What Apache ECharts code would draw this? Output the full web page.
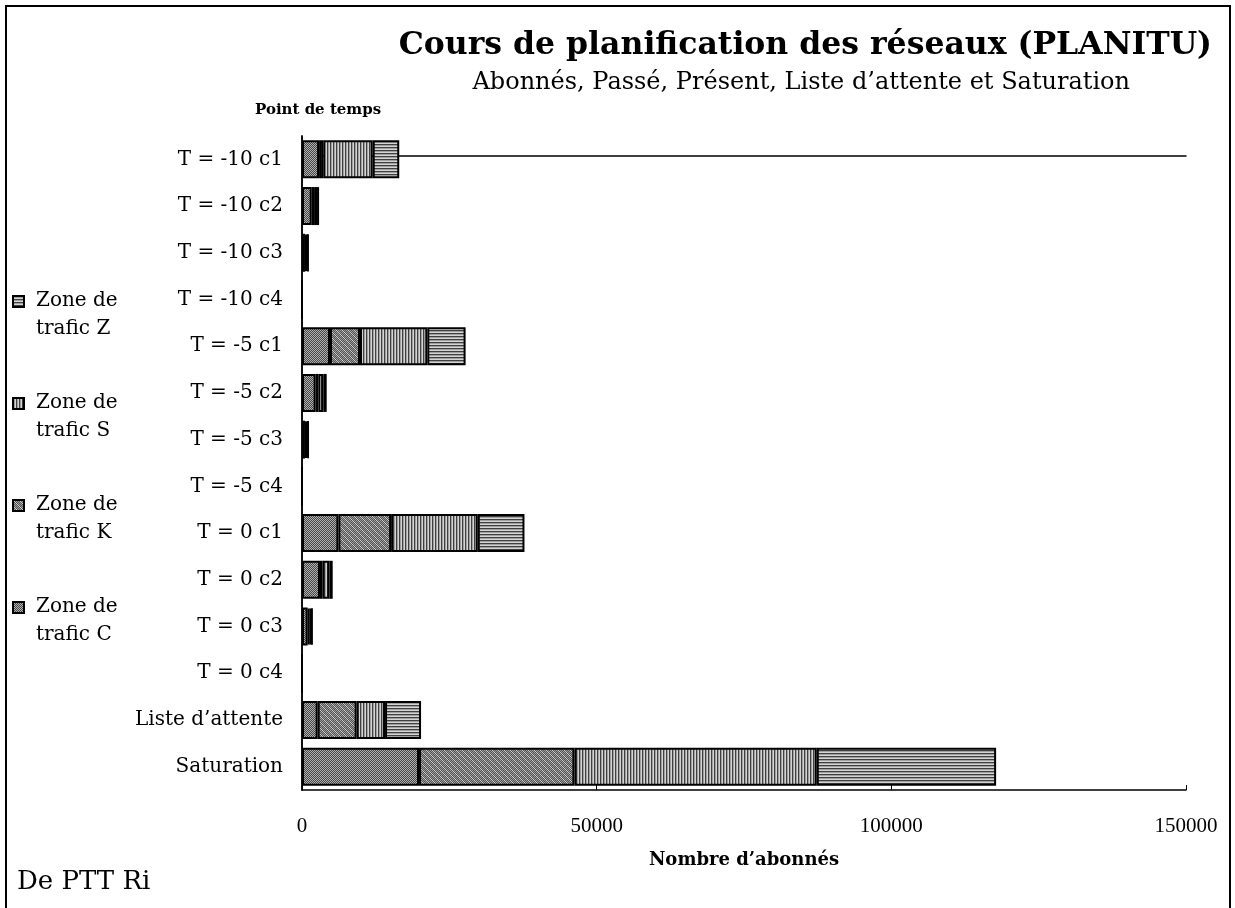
<!DOCTYPE html>
<html>
<head>
<meta charset="utf-8">
<script src="https://cdn.jsdelivr.net/npm/echarts@6/dist/echarts.min.js"></script>
<style>
  html, body { margin: 0; padding: 0; background: #fff; }
  #chart { width: 1235px; height: 908px; }
</style>
</head>
<body>
<div id="chart"></div>
<script>
// catégories (de haut en bas)
const categories = [
  'T = -10 c1', 'T = -10 c2', 'T = -10 c3', 'T = -10 c4',
  'T = -5 c1', 'T = -5 c2', 'T = -5 c3', 'T = -5 c4',
  'T = 0 c1', 'T = 0 c2', 'T = 0 c3', 'T = 0 c4',
  'Liste d’attente', 'Saturation'
]
const zoneC = [2900, 1650, 500, 0, 4750, 2320, 500, 0, 6170, 3050, 960, 0, 2660, 19860]
const zoneK = [700, 400, 200, 0, 5090, 450, 200, 0, 8950, 400, 300, 0, 6620, 26360]
const zoneS = [8400, 500, 250, 0, 11420, 850, 250, 0, 14710, 1190, 300, 0, 4810, 41130]
const zoneZ = [4500, 350, 120, 0, 6500, 570, 150, 0, 7920, 570, 240, 0, 6110, 30430]
const xTicks = [0, 50000, 100000, 150000]

const serif = 'DejaVu Serif'
const digits = 'Liberation Serif'

// motifs de remplissage façon Excel noir et blanc
function pattern(kind) {
  const c = document.createElement('canvas')
  c.width = 6; c.height = 6
  const g = c.getContext('2d')
  for (let y = 0; y < 6; y++) {
    for (let x = 0; x < 6; x++) {
      let v
      if (kind === 'C') v = (x + y) % 2 ? '#474747' : '#b0b0b0'
      else if (kind === 'K') v = (x + y) % 2 ? '#555' : ((x - y + 6) % 3 === 0 ? '#d0d0d0' : '#9a9a9a')
      else if (kind === 'S') v = ['#404040', '#a0a0a0', '#d4d4d4'][x % 3]
      else v = ['#404040', '#a0a0a0', '#d4d4d4'][y % 3]
      g.fillStyle = v
      g.fillRect(x, y, 1, 1)
    }
  }
  return { image: c, repeat: 'repeat' }
}

const chart = echarts.init(document.getElementById('chart'))

const mkSeries = (name, data, kind) => ({
  name,
  type: 'bar',
  stack: 'total',
  barWidth: 38,
  data,
  itemStyle: { color: pattern(kind), borderColor: '#000', borderWidth: 2 },
  emphasis: { disabled: true }
})

const option = {
  backgroundColor: '#fff',
  animation: false,
  textStyle: { fontFamily: serif, color: '#000' },
  title: [
    {
      text: 'Cours de planification des réseaux (PLANITU)',
      right: 18, top: 25,
      textStyle: { fontFamily: serif, fontSize: 31.5, fontWeight: 'bold', color: '#000' }
    },
    {
      text: 'Abonnés, Passé, Présent, Liste d’attente et Saturation',
      right: 100, top: 66,
      textStyle: { fontFamily: serif, fontSize: 24, fontWeight: 'normal', color: '#000' }
    }
  ],
  legend: {
    orient: 'vertical',
    left: 7, top: 282,
    itemWidth: 18, itemHeight: 38,
    itemGap: 46,
    // carré en haut à gauche de la case, pour l'aligner sur la première ligne
    icon: 'path://M0,0L11,0L11,11L0,11Z M18,38',
    data: ['Zone de trafic Z', 'Zone de trafic S', 'Zone de trafic K', 'Zone de trafic C'],
    formatter: name => name.replace('de trafic', 'de\ntrafic'),
    textStyle: { fontFamily: serif, fontSize: 20, lineHeight: 28, color: '#000' }
  },
  grid: { left: 302, right: 49, top: 136, height: 654 },
  xAxis: [
    {
      type: 'value',
      min: xTicks[0], max: xTicks[xTicks.length - 1], interval: 50000,
      name: 'Nombre d’abonnés',
      nameLocation: 'middle', nameGap: 61,
      nameTextStyle: { fontFamily: serif, fontSize: 18, fontWeight: 'bold', color: '#000' },
      axisLine: { show: true, lineStyle: { color: '#000', width: 1.5 } },
      axisTick: { show: true, inside: true, length: 5, lineStyle: { color: '#000' } },
      axisLabel: { fontFamily: digits, fontSize: 21, color: '#000', margin: 26, formatter: v => String(v) },
      splitLine: { show: false }
    },
    {
      type: 'value', position: 'top', offset: -20,
      min: 0, max: 150000,
      axisLine: { show: true, lineStyle: { color: '#000', width: 1.5 } },
      axisTick: { show: false }, axisLabel: { show: false }, splitLine: { show: false }
    }
  ],
  yAxis: [
    {
      type: 'category',
      inverse: true,
      data: categories,
      axisLine: { show: true, lineStyle: { color: '#000', width: 1.5 } },
      axisTick: { show: false },
      axisLabel: { fontFamily: serif, fontSize: 20, color: '#000', margin: 19 }
    },
    {
      type: 'category', position: 'right', inverse: true, data: categories,
      axisLine: { show: true, lineStyle: { color: '#000', width: 1.5 } },
      axisTick: { show: false }, axisLabel: { show: false }
    }
  ],
  graphic: [
    {
      type: 'rect', silent: true,
      shape: { x: 6, y: 6, width: 1224, height: 920 },
      style: { fill: null, stroke: '#000', lineWidth: 2 }
    },
    {
      type: 'text', left: 255, top: 103,
      style: { text: 'Point de temps', font: 'bold 15px "DejaVu Serif"', fill: '#000' }
    },
    {
      type: 'text', left: 17, top: 869,
      style: { text: 'De PTT Ri', font: '26px "DejaVu Serif"', fill: '#000' }
    }
  ],
  series: [
    mkSeries('Zone de trafic C', zoneC, 'C'),
    mkSeries('Zone de trafic K', zoneK, 'K'),
    mkSeries('Zone de trafic S', zoneS, 'S'),
    mkSeries('Zone de trafic Z', zoneZ, 'Z')
  ]
}

chart.setOption(option)
</script>
</body>
</html>
